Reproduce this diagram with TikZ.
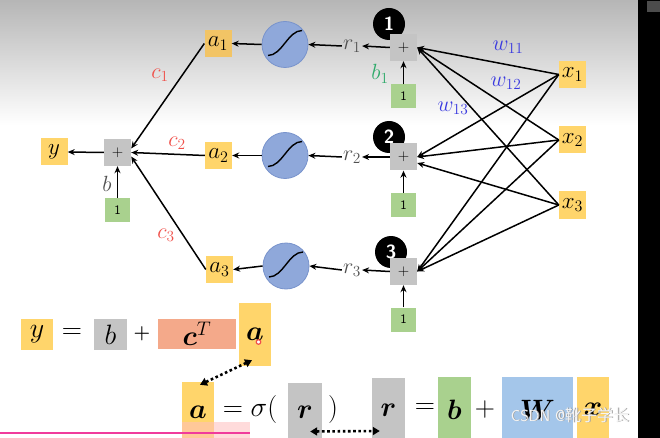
\RequirePackage{fix-cm}
\documentclass[tikz,border=0pt]{standalone}
\usepackage{amsmath,bm}
\usepackage{fontspec}
\newfontfamily\cjk{Noto Sans CJK SC}
\usetikzlibrary{arrows.meta,calc}
\definecolor{oy}{HTML}{FFD56B}
\definecolor{oyd}{HTML}{F2C465}
\definecolor{gb}{HTML}{C4C4C4}
\definecolor{gn}{HTML}{A9D18E}
\definecolor{sal}{HTML}{F4A98A}
\definecolor{bw}{HTML}{A4C6EA}
\definecolor{sgf}{HTML}{8FA8DA}
\definecolor{sgd}{HTML}{7893CC}
\definecolor{cred}{HTML}{F0504A}
\definecolor{wblue}{HTML}{3A3AE0}
\definecolor{bgreen}{HTML}{2EAA6A}
\definecolor{lab}{HTML}{505050}
\begin{document}
\begin{tikzpicture}[x=1pt,y=-1pt,
  lfont/.style={font=\fontsize{23}{25}\selectfont},
  obox/.style={fill=oy, inner sep=0pt, minimum width=27pt, minimum height=27pt, lfont},
  plusbox/.style={fill=gb, inner sep=0pt, minimum size=27pt, font=\fontsize{15}{16}\selectfont},
  onebox/.style={fill=gn, inner sep=0pt, minimum width=25pt, minimum height=24pt, font=\sffamily\fontsize{13}{14}\selectfont},
  sig/.style={circle, fill=sgf, draw=sgd, line width=0.8pt, minimum size=46pt, inner sep=0pt},
  numc/.style={circle, fill=black, minimum size=32pt, inner sep=0pt, text=white, font=\sffamily\bfseries\fontsize{19}{19}\selectfont},
  rlab/.style={text=lab, inner sep=1pt, font=\fontsize{22}{24}\selectfont},
  arr/.style={-{Stealth[length=7pt,width=6pt]}, line width=1.5pt},
  darr/.style={{Triangle[length=7pt,width=8pt]}-{Triangle[length=7pt,width=8pt]}, line width=2.6pt, dash pattern=on 2.6pt off 2.6pt},
  fbox/.style={inner sep=0pt, font=\fontsize{28}{30}\selectfont},
  ftext/.style={inner sep=0pt, font=\fontsize{28}{30}\selectfont},
  wmark/.style={inner sep=0pt, font=\fontsize{16}{18}\selectfont\sffamily},
  sigcurve/.style={line width=1.4pt}
]
\clip (0,0) rectangle (660,438);
\fill[white] (0,0) rectangle (660,438);
\shade[top color=gray!62, bottom color=white] (0,-10) rectangle (638,125);
\fill[black] (638,0) rectangle (660,438);
\fill[gray!60!black] (647,1) rectangle (660,12);

% ---- output sum ----
\node[obox] (y) at (54,152) {$y$};
\node[plusbox] (s) at (117.5,152.5) {$+$};
\node[onebox] (s1) at (117.5,210) {1};
\draw[arr] (s.west) -- (y.east);
\draw[arr] (s1.north) -- (s.south);
\node[text=lab, font=\fontsize{22}{24}\selectfont] (lb) at (107,184) {$b$};

% ---- hidden neurons ----
\node[obox, fill=oyd] (a1) at (218,43.5) {$a_1$};
\node[obox] (a2) at (218.5,155.5) {$a_2$};
\node[obox] (a3) at (219.5,269.5) {$a_3$};
\node[sig] (g1) at (285,44.5) {};
\node[sig] (g2) at (285,155.5) {};
\node[sig] (g3) at (286,266) {};
\foreach \g in {g1,g2,g3}{
  \draw[sigcurve] (\g.center) ++(-17,11) .. controls +(14,0) and +(-14,0) .. ++(34,-25);
}
\node[rlab] (r1) at (352,46) {$r_1$};
\node[rlab] (r2) at (352,157) {$r_2$};
\node[rlab] (r3) at (352,270) {$r_3$};
\node[numc] (n1) at (389,24) {1};
\node[numc] (n2) at (389,137) {2};
\node[numc] (n3) at (391,252) {3};
\node[plusbox] (p1) at (403.5,47.5) {$+$};
\node[plusbox] (p2) at (403.5,157) {$+$};
\node[plusbox] (p3) at (403.5,271.5) {$+$};
\node[onebox] (o1) at (403.5,96.5) {1};
\node[onebox] (o2) at (403.5,205) {1};
\node[onebox] (o3) at (403.5,319.5) {1};
\foreach \i in {1,2,3}{
  \draw[arr] (g\i.west) -- (a\i.east);
  \draw[arr] (o\i.north) -- (p\i.south);
  \draw[arr] (p\i.west) -- (r\i.east);
  \draw[arr] (r\i.west) -- (g\i.east);
}

% ---- to output sum ----
\draw[arr] (a1.west) -- ([yshift=4pt]s.east);
\draw[arr] (a2.west) -- (s.east);
\draw[arr] (a3.west) -- ([yshift=-4pt]s.east);
\node[text=cred, font=\fontsize{22}{24}\selectfont] (c1) at (160,75) {$c_1$};
\node[text=cred, font=\fontsize{22}{24}\selectfont] (c2) at (177,143) {$c_2$};
\node[text=cred, font=\fontsize{22}{24}\selectfont] (c3) at (166,235) {$c_3$};

% ---- inputs ----
\node[obox] (x1) at (572.5,74.5) {$x_1$};
\node[obox] (x2) at (572.5,140) {$x_2$};
\node[obox] (x3) at (572.5,205) {$x_3$};
\foreach \x in {x1,x2}{
  \draw[arr] (\x.west) -- (p1.east);
  \draw[arr] (\x.west) -- (p2.east);
  \draw[arr] (\x.west) -- (p3.east);
}
\draw[arr] (x3.west) -- (p1.east);
\draw[arr] (x3.west) -- ([yshift=-6pt]p2.east);
\draw[arr] (x3.west) -- (p3.east);
\node[text=bgreen, font=\fontsize{22}{24}\selectfont] (b1) at (380,74) {$b_1$};
\node[text=wblue, font=\fontsize{22}{24}\selectfont] (w11) at (508,47) {$w_{11}$};
\node[text=wblue, font=\fontsize{22}{24}\selectfont] (w12) at (506,83) {$w_{12}$};
\node[text=wblue, font=\fontsize{22}{24}\selectfont] (w13) at (453,108) {$w_{13}$};

% ---- formula 1 ----
\node[fbox, fill=oy, minimum width=32pt, minimum height=31pt] (fy) at (37,334.5) {$y$};
\node[ftext] (feq) at (72,334) {$=$};
\node[fbox, fill=gb, minimum width=33pt, minimum height=31pt] (fb) at (110.5,334.5) {$b$};
\node[inner sep=0pt, font=\fontsize{19}{20}\selectfont] (fpl) at (142,334) {$\boldsymbol{+}$};
\node[fbox, fill=sal, minimum width=78pt, minimum height=30pt] (fc) at (197,334) {$\bm{c}^{T}$};
\node[fbox, fill=oy, minimum width=32pt, minimum height=63pt] (fa) at (255,334.5) {$\bm{a}$};
\draw[cred, line width=1.2pt, fill=white] (258.5,342) circle (2.3pt);

% ---- formula 2 ----
\node[fbox, fill=oy, minimum width=32pt, minimum height=60pt] (ba) at (198,412) {$\bm{a}$};
\node[ftext] (bsig) at (250,409) {$=\sigma($};
\node[fbox, fill=gb, minimum width=34pt, minimum height=59pt] (br1) at (305,412.5) {$\bm{r}$};
\node[ftext] (bpar) at (333,409) {$)$};
\node[fbox, fill=gb, minimum width=33pt, minimum height=64pt] (br2) at (388.5,410) {$\bm{r}$};
\node[ftext] (beq) at (425,409) {$=$};
\node[fbox, fill=gn, minimum width=33pt, minimum height=65pt] (bb) at (454.5,409.5) {$\bm{b}$};
\node[ftext] (bpl) at (485,409) {$+$};
\node[fbox, fill=bw, minimum width=71pt, minimum height=65pt] (bW) at (537.5,409.5) {$\bm{W}$};
\node[fbox, fill=oy, minimum width=32pt, minimum height=65pt] (bx) at (593,409.5) {$\bm{x}$};

\draw[darr] ($(fa.south)+(-3,-6)$) -- ($(ba.north)+(2,3)$);
\draw[darr] ($(br1.east)+(-12,19)$) -- ($(br2.west)+(8,21)$);

% ---- overlays ----
\fill[pink, opacity=0.55] (182,422) rectangle (250,438);
\draw[magenta!70!pink, line width=2pt] (0,433) -- (250,433);
\node[wmark, text=gray!75] (wms) at (570.8,415.8) {CSDN @{\cjk 靴子学长}};
\node[wmark, text=white!92!gray] (wm) at (570,415) {CSDN @{\cjk 靴子学长}};
\end{tikzpicture}
\end{document}
